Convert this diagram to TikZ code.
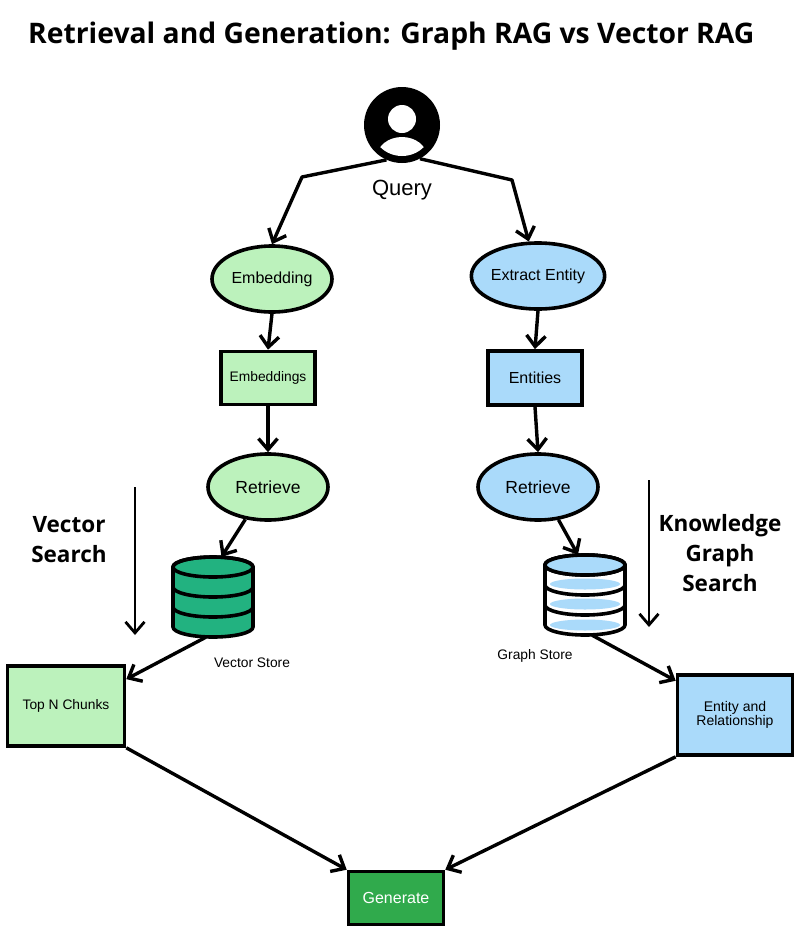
\documentclass[tikz,border=0pt]{standalone}
\usepackage{fontspec}
\setmainfont{Liberation Sans}
\newfontfamily\headfont{Open Sans}
\usetikzlibrary{arrows.meta,shapes.geometric,positioning}
\definecolor{leafgreen}{RGB}{188,242,188}
\definecolor{skyblue}{RGB}{170,218,250}
\definecolor{storegreen}{RGB}{34,178,128}
\definecolor{gengreen}{RGB}{48,170,76}
\newcommand{\fs}[1]{\fontsize{#1}{#1}\selectfont}
\tikzset{
  stage/.style={ellipse,draw,line width=3.6pt,minimum width=120pt,minimum height=66pt,inner sep=0pt},
  block/.style={rectangle,draw,line width=3.6pt,inner sep=0pt,align=center},
  flow/.style={-{Straight Barb[length=11pt,width=19pt]},line width=3.4pt,line join=round},
  tag/.style={font=\headfont\bfseries\fontsize{22.5}{30}\selectfont,align=center}
}
% database drawing: name, centre, body colour
\newcommand{\Store}[3]{
\node[minimum width=80pt,minimum height=80pt,inner sep=0pt] (#1) at (#2) {};
\begin{scope}[shift={(#2)},line width=3.6pt]
\filldraw[fill=#3] (-40,30) -- (-40,-30) arc[start angle=180,end angle=360,x radius=40,y radius=10]
  -- (40,30) arc[start angle=0,end angle=180,x radius=40,y radius=10] -- cycle;
\draw (0,30) ellipse[x radius=40,y radius=10];
\draw (-40,10) arc[start angle=180,end angle=360,x radius=40,y radius=10];
\draw (-40,-10) arc[start angle=180,end angle=360,x radius=40,y radius=10];
\end{scope}
}

\begin{document}
\begin{tikzpicture}[x=1pt,y=1pt]
\path[fill=white,use as bounding box] (0,0) rectangle (800,-943);
\node[anchor=base west,inner sep=0pt,font=\headfont\bfseries\fs{28.3}] (title) at (28,-43) {Retrieval and Generation: Graph RAG vs Vector RAG};

% user icon
\node[circle,fill=black,minimum size=76pt,inner sep=0pt] (user) at (402,-125) {};
\fill[white] (402,-119) circle[radius=14];
\begin{scope}
\clip (402,-125) circle[radius=31];
\fill[white] (402,-157) ellipse[x radius=25,y radius=20];
\end{scope}
\node[anchor=base,inner sep=0pt,font=\fs{22}] (query) at (402,-195) {Query};

\node[stage,fill=leafgreen,font=\fs{16}] (embed) at (272,-279) {Embedding};
\node[stage,fill=skyblue,font=\fs{16}] (extract) at (538,-276) {Extract Entity};
\node[block,fill=leafgreen,minimum width=94pt,minimum height=53pt,font=\fs{13.8}] (embs) at (268,-378) {Embeddings};
\node[block,fill=skyblue,minimum width=94pt,minimum height=54pt,font=\fs{16}] (ents) at (535,-378) {Entities};
\node[stage,fill=leafgreen,font=\fs{17.5}] (retL) at (268,-487) {Retrieve};
\node[stage,fill=skyblue,font=\fs{17.5}] (retR) at (538,-487) {Retrieve};

\Store{vdb}{213,-597}{storegreen}
\Store{gdb}{585,-595}{white}
\begin{scope}[shift={(gdb.center)},line width=3.6pt]
\fill[skyblue] (0,11) ellipse[x radius=35,y radius=5.5];
\fill[skyblue] (0,-9) ellipse[x radius=35,y radius=5.5];
\fill[skyblue] (0,-30) ellipse[x radius=35,y radius=5.5];
\filldraw[fill=skyblue] (0,30) ellipse[x radius=40,y radius=10];
\end{scope}
\node[font=\fs{13.8}] (vlabel) at (252,-663) {Vector Store};
\node[font=\fs{13.8}] (glabel) at (535,-656) {Graph Store};

\node[tag] (vsearch) at (69,-540) {Vector\\Search};
\node[tag] (kgsearch) at (720,-553) {Knowledge\\Graph\\Search};
\coordinate (vsTop) at (135,-487);
\coordinate (vsEnd) at (135,-635);
\coordinate (kgTop) at (649,-480);
\coordinate (kgEnd) at (649,-627);

\node[block,fill=leafgreen,minimum width=117pt,minimum height=80pt,font=\fs{13.8}] (topn) at (66,-706) {Top N Chunks};
\node[block,fill=skyblue,minimum width=115pt,minimum height=80pt,font=\fs{14}] (er) at (735,-715) {Entity and\\Relationship};
\node[block,fill=gengreen,text=white,minimum width=95pt,minimum height=53pt,font=\fs{16}] (gen) at (396,-898) {Generate};

\coordinate (bendL) at (302,-177);
\coordinate (bendR) at (512,-180);
\draw[flow] (user.-114) -- (bendL) -- (embed.north);
\draw[flow] (user.-62) -- (bendR) -- (extract.105);
\draw[flow] (embed.south) -- (embs.north);
\draw[flow] (extract.south) -- (ents.north);
\draw[flow] (embs.south) -- (retL.north);
\draw[flow] (ents.south) -- (retR.north);
\draw[flow] (retL.-125) -- (vdb.78);
\draw[flow] (retR.-58) -- (gdb.100);
\draw[flow] (vdb.-100) -- (topn.24);
\draw[flow] (gdb.-80) -- (er.150);
\draw[flow,line width=2.8pt] (vsTop) -- (vsEnd);
\draw[flow,line width=2.8pt] (kgTop) -- (kgEnd);
\draw[flow] (topn.south east) -- (gen.north west);
\draw[flow] (er.south west) -- (gen.north east);
\end{tikzpicture}
\end{document}
